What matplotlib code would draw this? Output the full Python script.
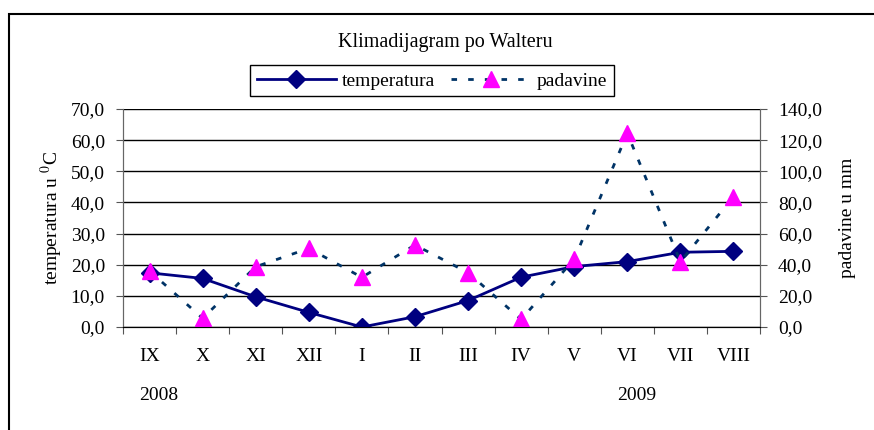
import matplotlib
matplotlib.use('Agg')
import matplotlib.pyplot as plt
from matplotlib.patches import Rectangle

plt.rcParams['font.family'] = ['Liberation Serif', 'DejaVu Serif']
plt.rcParams['mathtext.fontset'] = 'stix'

mjeseci = ['IX', 'X', 'XI', 'XII', 'I', 'II', 'III', 'IV', 'V', 'VI', 'VII', 'VIII']
temperatura = [17.4, 15.6, 9.7, 4.7, 0.0, 3.3, 8.5, 16.0, 19.4, 21.0, 24.0, 24.3]
padavine = [36.0, 5.6, 38.7, 50.5, 31.9, 52.7, 34.9, 4.9, 43.5, 124.4, 42.0, 83.7]
godine = ['2008', '2009']
godine_pos = [0, 9]

fig = plt.figure(figsize=(8.74, 4.30), dpi=100)
ax = fig.add_axes([0.1407, 0.2395, 0.7289, 0.507])
ax2 = ax.twinx()

x = list(range(len(mjeseci)))
l1, = ax.plot(x, temperatura, color='#000080', lw=2, marker='D', ms=9.5,
              label='temperatura', zorder=3)
l2, = ax2.plot(x, padavine, color='#003366', lw=2, ls=(0, (2, 4)), marker='^',
               ms=11.5, mfc='#FF00FF', mec='#FF00FF', label='padavine', zorder=2)

ax.set_xlim(-0.5, len(mjeseci) - 0.5)
ax.set_ylim(0, 70)
ax2.set_ylim(0, 140)
ax.set_yticks(range(0, 71, 10))
ax2.set_yticks(range(0, 141, 20))
ax.set_yticklabels([f'{v:.1f}'.replace('.', ',') for v in range(0, 71, 10)], fontsize=14)
ax2.set_yticklabels([f'{v:.1f}'.replace('.', ',') for v in range(0, 141, 20)], fontsize=14)

ax.set_xticks([i - 0.5 for i in range(len(mjeseci) + 1)])
ax.set_xticklabels([])
for i, m in enumerate(mjeseci):
    ax.text(i, -0.135, m, transform=ax.get_xaxis_transform(), ha='center', va='center', fontsize=14)
for p, g in zip(godine_pos, godine):
    ax.text(p + 0.17, -0.315, g, transform=ax.get_xaxis_transform(), ha='center', va='center', fontsize=14)

ax.grid(axis='y', color='black', lw=1)
ax.set_axisbelow(True)
ax.tick_params(axis='both', direction='out', length=5, color='#555555')
ax.tick_params(axis='y', pad=8)
ax2.tick_params(axis='y', direction='out', length=5, color='#555555', pad=8)
for a in (ax, ax2):
    a.spines['top'].set_visible(False)
    a.spines['left'].set_color('#666666')
    a.spines['right'].set_color('#666666')
    a.spines['bottom'].set_color('black')

ax.set_ylabel('temperatura u $^0$C', fontsize=14, labelpad=4)
ax2.set_ylabel('padavine u mm', fontsize=14, labelpad=12)

fig.text(0.509, 0.902, 'Klimadijagram po Walteru', ha='center', va='center', fontsize=14.5)

leg = fig.legend(handles=[l1, l2], loc='center', bbox_to_anchor=(0.494, 0.812), ncol=2,
                 fontsize=14, frameon=True, fancybox=False, edgecolor='black',
                 framealpha=1, handlelength=4.1, columnspacing=0.8, handletextpad=0.3,
                 borderpad=0.35)
leg.get_frame().set_linewidth(1)

fig.patches.append(Rectangle((0.0103, -0.1), 1.1, 1.0674, transform=fig.transFigure,
                             fill=False, edgecolor='black', lw=1.5))

fig.savefig('out.png', dpi=100)
